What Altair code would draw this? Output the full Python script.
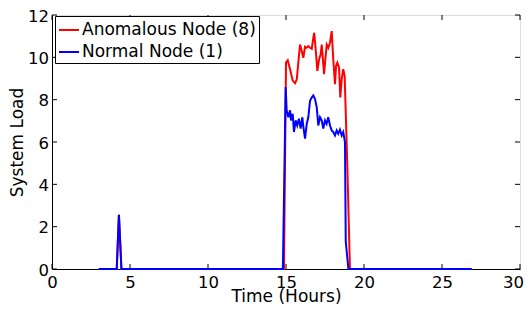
import altair as alt
import pandas as pd

# ---- data ----
anom_x = [3.0, 4.15, 4.29, 4.45, 14.87, 15.0, 15.11, 15.26, 15.43, 15.58, 15.69, 15.79, 15.9,
          16.01, 16.11, 16.22, 16.33, 16.43, 16.54, 16.65, 16.75, 16.81, 16.92, 17.01, 17.12,
          17.22, 17.29, 17.39, 17.44, 17.54, 17.61, 17.71, 17.82, 17.93, 18.03, 18.14, 18.21,
          18.29, 18.4, 18.48, 18.57, 18.67, 18.76, 18.93, 19.1, 26.9]
anom_y = [0.0, 0.0, 2.56, 0.0, 0.0, 9.75, 9.86, 9.44, 8.9, 8.78, 8.95, 9.75, 10.6,
          10.3, 9.98, 10.5, 10.45, 10.53, 10.45, 10.4, 10.92, 11.16, 10.22, 9.36, 9.9,
          10.14, 10.6, 9.67, 9.2, 10.06, 10.6, 10.45, 10.69, 11.24, 9.9, 8.73, 9.6,
          9.75, 9.52, 8.11, 8.97, 9.44, 9.13, 4.9, 0.0, 0.0]

norm_x = [3.0, 4.15, 4.29, 4.45, 14.8, 14.98, 15.04, 15.15, 15.26, 15.32, 15.43, 15.51, 15.62,
          15.72, 15.83, 15.94, 16.05, 16.1, 16.22, 16.33, 16.43, 16.54, 16.65, 16.75, 16.86,
          16.97, 17.07, 17.18, 17.29, 17.39, 17.5, 17.6, 17.71, 17.82, 17.93, 18.03, 18.14,
          18.25, 18.35, 18.46, 18.57, 18.67, 18.78, 18.83, 19.0, 26.9]
norm_y = [0.0, 0.0, 2.56, 0.0, 0.0, 8.6, 7.5, 7.17, 7.5, 7.02, 7.33, 6.47, 7.02,
          6.78, 7.1, 6.63, 7.17, 6.78, 6.16, 6.86, 7.17, 7.95, 8.1, 8.2, 8.03,
          7.64, 6.78, 7.17, 7.02, 6.63, 7.02, 6.86, 7.17, 6.78, 6.55, 6.47, 6.31,
          6.55, 6.39, 6.58, 6.31, 6.47, 6.0, 1.3, 0.0, 0.0]

series_names = ["Anomalous Node (8)", "Normal Node (1)"]
series_colors = ["#ff0000", "#0000ff"]
x_ticks = [0, 5, 10, 15, 20, 25, 30]
y_ticks = [0, 2, 4, 6, 8, 10, 12]

df = pd.concat([
    pd.DataFrame({"t": anom_x, "load": anom_y, "node": series_names[0]}),
    pd.DataFrame({"t": norm_x, "load": norm_y, "node": series_names[1]}),
], ignore_index=True)
xt = pd.DataFrame({"v": x_ticks})
yt = pd.DataFrame({"v": y_ticks})

W, H = 468, 254
FONT = "DejaVu Sans"
TICKFS = 16.5
TITLEFS = 17

xscale = alt.Scale(domain=[0, 30], nice=False, zero=False)
yscale = alt.Scale(domain=[0, 12], nice=False)

color = alt.Color("node:N",
                  scale=alt.Scale(domain=series_names, range=series_colors),
                  legend=alt.Legend(title=None, orient="none", legendX=3, legendY=1,
                                    direction="vertical",
                                    strokeColor="black", fillColor="white", padding=3,
                                    symbolType="stroke", symbolSize=400, symbolStrokeWidth=2,
                                    labelFont=FONT, labelFontSize=TITLEFS, labelColor="black",
                                    labelLimit=400, labelOffset=2, rowPadding=3,
                                    cornerRadius=0))

xax = alt.Axis(values=x_ticks, title="Time (Hours)", grid=False, ticks=False, tickSize=0,
               domainColor="black", labelColor="black", labelFont=FONT, labelFontSize=TICKFS,
               labelBaseline="alphabetic", labelPadding=18.5,
               labelAlign=alt.ExprRef("datum.value === 30 ? 'right' : 'center'"),
               labelOffset=alt.ExprRef("datum.value === 30 ? 3.5 : 0"),
               titleFont=FONT, titleFontSize=TITLEFS, titleFontWeight="normal",
               titleColor="black", titleBaseline="alphabetic", titleY=32)
yax = alt.Axis(values=y_ticks, title="System Load", grid=False, ticks=False, tickSize=0,
               domainColor="black", labelColor="black", labelFont=FONT, labelFontSize=TICKFS,
               labelPadding=3.5, labelOffset=1,
               titleFont=FONT, titleFontSize=TITLEFS, titleFontWeight="normal",
               titleColor="black", titleX=-30, titleY=H / 2, titleAlign="center",
               titleBaseline="alphabetic", titleAngle=270)

base = alt.Chart(df)
red = base.transform_filter(alt.datum.node == series_names[0]).mark_line(strokeWidth=2).encode(
    x=alt.X("t:Q", scale=xscale, axis=xax),
    y=alt.Y("load:Q", scale=yscale, axis=yax),
    color=color)
blue = base.transform_filter(alt.datum.node == series_names[1]).mark_line(strokeWidth=2).encode(
    x=alt.X("t:Q", scale=xscale),
    y=alt.Y("load:Q", scale=yscale),
    color=color)

TL = 5
tick_b = alt.Chart(xt).mark_rule(color="black", strokeWidth=1).encode(
    x=alt.X("v:Q", scale=xscale), y=alt.value(H), y2=alt.value(H - TL))
tick_t = alt.Chart(xt).mark_rule(color="black", strokeWidth=1).encode(
    x=alt.X("v:Q", scale=xscale), y=alt.value(0), y2=alt.value(TL))
tick_l = alt.Chart(yt).mark_rule(color="black", strokeWidth=1).encode(
    y=alt.Y("v:Q", scale=yscale), x=alt.value(0), x2=alt.value(TL))
tick_r = alt.Chart(yt).mark_rule(color="black", strokeWidth=1).encode(
    y=alt.Y("v:Q", scale=yscale), x=alt.value(W), x2=alt.value(W - TL))

chart = alt.layer(tick_b, tick_t, tick_l, tick_r, red, blue).properties(
    width=W, height=H,
    autosize=alt.AutoSizeParams(type="none"),
    padding={"left": 44, "top": 7, "right": 4, "bottom": 36},
).configure_view(stroke="black", strokeWidth=1).configure(background="white")

chart.save("out.html", embed_options={"renderer": "svg", "actions": False})
